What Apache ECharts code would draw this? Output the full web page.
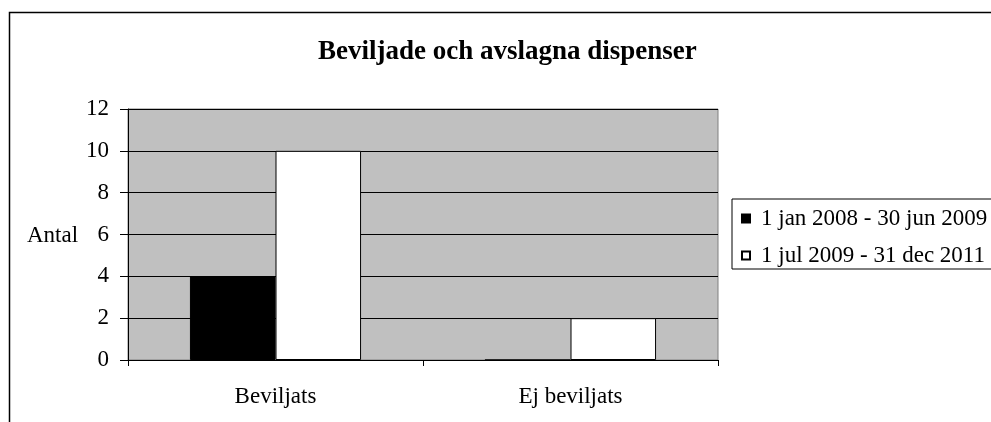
<!DOCTYPE html>
<html>
<head>
<meta charset="utf-8">
<script src="https://cdn.jsdelivr.net/npm/echarts@6/dist/echarts.min.js"></script>
<style>
  html, body { margin: 0; padding: 0; background: #fff; }
  #chart { width: 991px; height: 422px; }
</style>
</head>
<body>
<div id="chart"></div>
<script>
var categories = ['Beviljats', 'Ej beviljats'];
var seriesNames = ['1 jan 2008 - 30 jun 2009', '1 jul 2009 - 31 dec 2011'];
var period1 = [4, 0];
var period2 = [10, 2];
var yTicks = [0, 2, 4, 6, 8, 10, 12];

var serif = '"Liberation Serif", "Times New Roman", serif';
var chart = echarts.init(document.getElementById('chart'));

var option = {
    animation: false,
    backgroundColor: '#fff',
    textStyle: {fontFamily: serif, color: '#000'},
    title: {
        text: 'Beviljade och avslagna dispenser',
        left: 313,
        top: 34,
        textStyle: {fontFamily: serif, fontSize: 27, fontWeight: 'bold', color: '#000'}
    },
    legend: {
        orient: 'vertical',
        left: 732,
        top: 199,
        padding: [7, 20, 1, 9],
        itemGap: 12,
        itemWidth: 8,
        itemHeight: 8,
        icon: 'rect',
        borderColor: '#000',
        borderWidth: 1,
        backgroundColor: '#fff',
        textStyle: {fontFamily: serif, fontSize: 23, color: '#000', lineHeight: 25, padding: [0, 0, 0, 6]},
        data: seriesNames
    },
    grid: {
        left: 128,
        top: 109,
        right: 273,
        bottom: 62,
        show: true,
        backgroundColor: '#C0C0C0',
        borderColor: '#808080',
        borderWidth: 1
    },
    xAxis: {
        type: 'category',
        data: categories,
        axisLine: {lineStyle: {color: '#000', width: 1}},
        axisTick: {show: true, length: 6, lineStyle: {color: '#000'}},
        axisLabel: {fontFamily: serif, fontSize: 23, color: '#000', margin: 25}
    },
    yAxis: {
        type: 'value',
        min: yTicks[0],
        max: yTicks[yTicks.length - 1],
        interval: 2,
        axisLine: {show: true, lineStyle: {color: '#000', width: 1}},
        axisTick: {show: true, length: 8, lineStyle: {color: '#000'}},
        axisLabel: {fontFamily: serif, fontSize: 23, color: '#000', margin: 19},
        splitLine: {show: true, lineStyle: {color: '#000', width: 1}}
    },
    graphic: [
        {
            type: 'rect',
            shape: {x: 9.5, y: 12.5, width: 1100, height: 600},
            style: {fill: 'none', stroke: '#000', lineWidth: 1.5},
            silent: true
        },
        {
            type: 'text',
            left: 27,
            top: 224,
            style: {text: 'Antal', font: '23px ' + serif, fill: '#000'}
        }
    ],
    series: [
        {
            name: seriesNames[0],
            type: 'bar',
            data: period1,
            barGap: '0%',
            barCategoryGap: '42%',
            itemStyle: {color: '#000', borderColor: '#000', borderWidth: 1}
        },
        {
            name: seriesNames[1],
            type: 'bar',
            data: period2,
            barGap: '0%',
            barCategoryGap: '42%',
            itemStyle: {color: '#fff', borderColor: '#000', borderWidth: 1}
        }
    ]
};

chart.setOption(option);
</script>
</body>
</html>
